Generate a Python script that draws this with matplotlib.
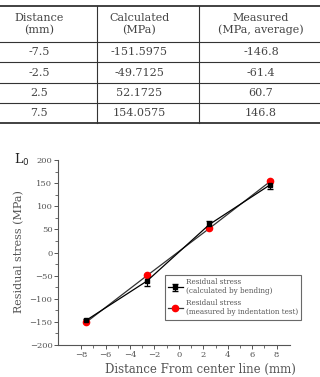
import matplotlib
matplotlib.use("Agg")
import matplotlib.pyplot as plt
from matplotlib.lines import Line2D

# table data
distance = [-7.5, -2.5, 2.5, 7.5]
calculated = [-151.5975, -49.7125, 52.1725, 154.0575]
measured = [-146.8, -61.4, 60.7, 146.8]
headers = ["Distance\n(mm)", "Calculated\n(MPa)", "Measured\n(MPa, average)"]

# plot data (as drawn in the chart)
x_pts = [-7.6, -2.6, 2.5, 7.5]
black_y = [-146.8, -61.4, 60.7, 146.8]
black_err = [3, 10, 8, 9]
red_y = [-151.0, -49.7, 52.2, 154.1]
xticks = [-8, -6, -4, -2, 0, 2, 4, 6, 8]
yticks = [-200, -150, -100, -50, 0, 50, 100, 150, 200]

W, H = 320, 377
plt.rcParams['font.family'] = ['DejaVu Serif']
fig = plt.figure(figsize=(W / 100, H / 100), dpi=100)

def fx(px):
    return px / W

def fy(py):
    return 1 - py / H

txt = "#444444"
# table lines
rows_y = [6, 42, 62, 83, 103, 123]
for i, yy in enumerate(rows_y):
    lw = 1.3 if i in (0, len(rows_y) - 1) else 0.8
    fig.add_artist(Line2D([0, 1], [fy(yy), fy(yy)], color="#333333", lw=lw))
for xx in [97, 199]:
    fig.add_artist(Line2D([fx(xx), fx(xx)], [fy(6), fy(123)], color="#333333", lw=0.8))

col_x = [39, 139, 261]
for cx, h in zip(col_x, headers):
    fig.text(fx(cx), fy(24), h, ha="center", va="center", fontsize=8, color=txt,
             linespacing=1.25)
for r in range(len(distance)):
    cy = (rows_y[r + 1] + rows_y[r + 2]) / 2
    vals = [str(distance[r]), "%.4f" % calculated[r], str(measured[r])]
    for cx, v in zip(col_x, vals):
        fig.text(fx(cx), fy(cy), v, ha="center", va="center", fontsize=8, color=txt)

# chart
ax = fig.add_axes([fx(58), fy(345), fx(290) - fx(58), fy(160) - fy(345)])
eb = ax.errorbar(x_pts, black_y, yerr=black_err, color="black", marker="s", markersize=3.5,
                 lw=0.9, capsize=2, elinewidth=0.8)
rl, = ax.plot(x_pts, red_y, color="#333333", marker="o", markersize=4.5,
              markerfacecolor="red", markeredgecolor="red", lw=0.9)

ax.set_xlim(-9.9, 9.1)
ax.set_ylim(-200, 200)
ax.set_xticks(xticks)
ax.set_yticks(yticks)
ax.set_xticklabels(["\u2212%d" % -t if t < 0 else str(t) for t in xticks])
ax.set_yticklabels(["\u2212%d" % -t if t < 0 else str(t) for t in yticks])
ax.set_yticks(range(-175, 200, 50), minor=True)
ax.set_xticks(range(-7, 9, 2), minor=True)
ax.tick_params(labelsize=6, colors="#555555", length=3, width=0.7, pad=1)
ax.tick_params(which="minor", length=2, width=0.6, colors="#555555")
for s in ["top", "right"]:
    ax.spines[s].set_visible(False)
for s in ["left", "bottom"]:
    ax.spines[s].set_color("#555555")
    ax.spines[s].set_linewidth(0.8)

fig.text(fx(19), fy(252), "Residual stress (MPa)", rotation=90, ha="center", va="center",
         fontsize=8, color="#555555")
fig.text(fx(200), fy(369), "Distance From center line (mm)", ha="center", va="center",
         fontsize=8.5, color="#555555")
fig.text(fx(14), fy(160), "L$_0$", ha="left", va="center", fontsize=9, color="#222222")

leg = ax.legend([eb, rl], ["Residual stress\n(calculated by bending)",
                           "Residaul stress\n(measured by indentation test)"],
                loc="upper left", bbox_to_anchor=(fx(161), fy(271)),
                bbox_transform=fig.transFigure, fontsize=5.2, frameon=True,
                fancybox=False, edgecolor="#444444", handlelength=2.0,
                borderpad=0.5, labelspacing=0.5, handletextpad=0.4)
leg.get_frame().set_linewidth(0.8)
for t in leg.get_texts():
    t.set_color("#555555")

fig.savefig("out.png", dpi=100)
